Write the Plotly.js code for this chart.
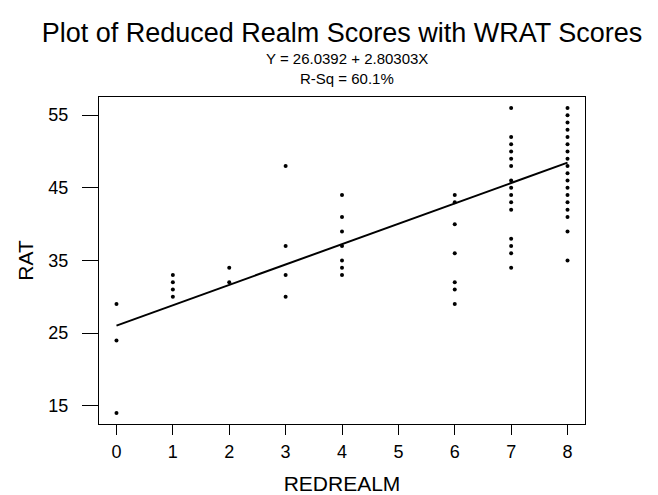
<!DOCTYPE html>
<html>
<head>
<meta charset="utf-8">
<script src="https://cdn.plot.ly/plotly-3.0.1.min.js"></script>
<style>
  html, body { margin: 0; padding: 0; background: #fff; }
  #chart { width: 658px; height: 495px; }
</style>
</head>
<body>
<div id="chart"></div>
<script>
// REDREALM values (x) and RAT scores (y)
const redrealm = [
  0, 0, 0,
  1, 1, 1, 1,
  2, 2,
  3, 3, 3, 3,
  4, 4, 4, 4, 4, 4, 4,
  6, 6, 6, 6, 6, 6, 6,
  7, 7, 7, 7, 7, 7, 7, 7, 7, 7, 7, 7, 7, 7, 7,
  8, 8, 8, 8, 8, 8, 8, 8, 8, 8, 8, 8, 8, 8, 8, 8, 8, 8
];
const rat = [
  29, 24, 14,
  33, 32, 31, 30,
  34, 32,
  48, 37, 33, 30,
  44, 41, 39, 37, 35, 34, 33,
  44, 43, 40, 36, 32, 31, 29,
  56, 52, 51, 50, 49, 48, 46, 45, 44, 43, 42, 38, 37, 36, 34,
  56, 55, 54, 53, 52, 51, 50, 49, 48, 47, 46, 45, 44, 43, 42, 41, 39, 35
];

// Fitted regression line
const fitIntercept = 26.0392;
const fitSlope = 2.80303;
const fitX = [0, 8];
const fitY = fitX.map(x => fitIntercept + fitSlope * x);

const xTicks = [0, 1, 2, 3, 4, 5, 6, 7, 8];
const yTicks = [15, 25, 35, 45, 55];

const titleText = "Plot of Reduced Realm Scores with WRAT Scores";
const subtitleLines = ["Y = 26.0392 + 2.80303X", "R-Sq = 60.1%"];

const font = "Liberation Sans, Arial, Helvetica, sans-serif";

const traces = [
  {
    x: redrealm, y: rat, type: "scatter", mode: "markers",
    marker: { color: "#000", size: 4 },
    hoverinfo: "x+y", showlegend: false
  },
  {
    x: fitX, y: fitY, type: "scatter", mode: "lines",
    line: { color: "#000", width: 2 },
    hoverinfo: "skip", showlegend: false
  }
];

const layout = {
  width: 658, height: 495,
  paper_bgcolor: "#fff", plot_bgcolor: "#fff",
  margin: { l: 99, r: 73, t: 97, b: 71 },
  font: { family: font, color: "#000" },
  title: {
    text: titleText,
    font: { family: font, size: 27, color: "#000" },
    xref: "paper", x: 0.5, xanchor: "center",
    yref: "container", y: 1 - 33 / 495, yanchor: "middle"
  },
  xaxis: {
    range: [-0.31, 8.31],
    tickvals: xTicks, ticktext: xTicks.map(String),
    ticks: "outside", ticklen: 10, tickwidth: 1, tickcolor: "#000",
    ticklabelstandoff: 1,
    showline: true, mirror: true, linecolor: "#000", linewidth: 1,
    showgrid: false, zeroline: false,
    tickfont: { family: font, size: 18, color: "#000" },
    title: { text: "REDREALM", font: { family: font, size: 21, color: "#000" }, standoff: 16 }
  },
  yaxis: {
    range: [12.5, 57.5],
    tickvals: yTicks, ticktext: yTicks.map(String),
    ticks: "outside", ticklen: 16, tickwidth: 1, tickcolor: "#000",
    ticklabelstandoff: 10,
    showline: true, mirror: true, linecolor: "#000", linewidth: 1,
    showgrid: false, zeroline: false,
    tickfont: { family: font, size: 18, color: "#000" },
    title: { text: "RAT", font: { family: font, size: 21, color: "#000" }, standoff: 9 }
  },
  annotations: [
    {
      text: subtitleLines[0], xref: "paper", yref: "paper",
      x: 0.51, y: (424 - 58) / 327, xanchor: "center", yanchor: "middle",
      showarrow: false, font: { family: font, size: 15, color: "#000" }
    },
    {
      text: subtitleLines[1], xref: "paper", yref: "paper",
      x: 0.51, y: (424 - 78) / 327, xanchor: "center", yanchor: "middle",
      showarrow: false, font: { family: font, size: 15, color: "#000" }
    }
  ]
};

Plotly.newPlot("chart", traces, layout, { displayModeBar: false, staticPlot: true });
</script>
</body>
</html>
